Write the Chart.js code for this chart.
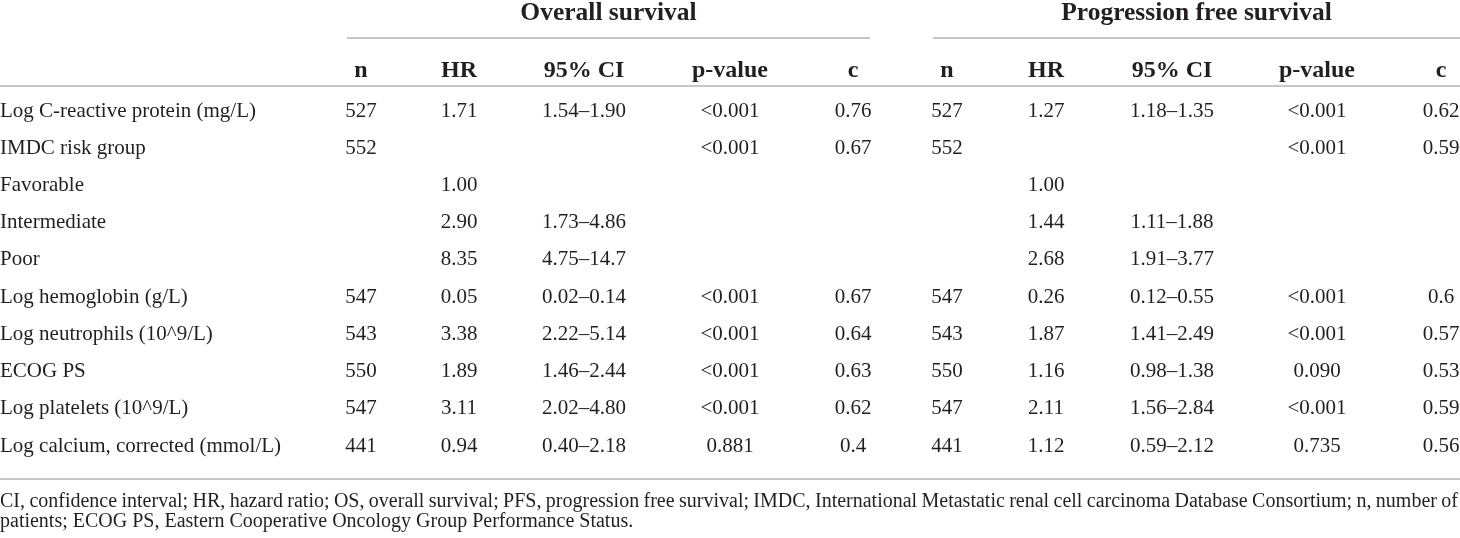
<!DOCTYPE html>
<html>
<head>
<meta charset="utf-8">
<script src="https://cdn.jsdelivr.net/npm/chart.js@4.4.1/dist/chart.umd.min.js"></script>
<style>
  html, body { margin: 0; padding: 0; background: #ffffff; }
  #wrap { width: 1460px; height: 538px; }
</style>
</head>
<body>
<div id="wrap"><canvas id="c" width="1460" height="538"></canvas></div>
<script>
// ---------- data ----------
const rows = ["Log C-reactive protein (mg/L)", "IMDC risk group", "Favorable", "Intermediate", "Poor",
  "Log hemoglobin (g/L)", "Log neutrophils (10^9/L)", "ECOG PS", "Log platelets (10^9/L)", "Log calcium, corrected (mmol/L)"];
const groupTitles = ["Overall survival", "Progression free survival"];
const colHeaders = ["n", "HR", "95% CI", "p-value", "c"];

const osN   = ["527", "552", "", "", "", "547", "543", "550", "547", "441"];
const osHR  = ["1.71", "", "1.00", "2.90", "8.35", "0.05", "3.38", "1.89", "3.11", "0.94"];
const osCI  = ["1.54–1.90", "", "", "1.73–4.86", "4.75–14.7", "0.02–0.14", "2.22–5.14", "1.46–2.44", "2.02–4.80", "0.40–2.18"];
const osP   = ["<0.001", "<0.001", "", "", "", "<0.001", "<0.001", "<0.001", "<0.001", "0.881"];
const osC   = ["0.76", "0.67", "", "", "", "0.67", "0.64", "0.63", "0.62", "0.4"];

const pfsN  = ["527", "552", "", "", "", "547", "543", "550", "547", "441"];
const pfsHR = ["1.27", "", "1.00", "1.44", "2.68", "0.26", "1.87", "1.16", "2.11", "1.12"];
const pfsCI = ["1.18–1.35", "", "", "1.11–1.88", "1.91–3.77", "0.12–0.55", "1.41–2.49", "0.98–1.38", "1.56–2.84", "0.59–2.12"];
const pfsP  = ["<0.001", "<0.001", "", "", "", "<0.001", "<0.001", "0.090", "<0.001", "0.735"];
const pfsC  = ["0.62", "0.59", "", "", "", "0.6", "0.57", "0.53", "0.59", "0.56"];

const footnote1 = "CI, confidence interval; HR, hazard ratio; OS, overall survival; PFS, progression free survival; IMDC, International Metastatic renal cell carcinoma Database Consortium; n, number of";
const footnote2 = "patients; ECOG PS, Eastern Cooperative Oncology Group Performance Status.";

// ---------- layout (positions in x-scale units) ----------
const columnsOS  = [osN, osHR, osCI, osP, osC];
const columnsPFS = [pfsN, pfsHR, pfsCI, pfsP, pfsC];
const colXOS  = [361, 459, 584, 730, 853];
const colXPFS = [947, 1046, 1172, 1317, 1441];
const groupSpans = [[347, 870], [933, 1460]];

const TEXT = "#231f20";
const RULE = "#b4b4b4";
const FAMILY = "'Liberation Serif', 'Times New Roman', serif";

const datasets = [];
[[columnsOS, colXOS], [columnsPFS, colXPFS]].forEach(([cols, xs]) => {
  cols.forEach((vals, k) => {
    datasets.push({
      label: colHeaders[k],
      data: rows.map((r, i) => ({ x: xs[k], y: r, t: vals[i] })).filter(p => p.t !== ""),
      pointRadius: 0,
      showLine: false
    });
  });
});

const tablePlugin = {
  id: 'tablePlugin',
  afterDatasetsDraw(chart) {
    const ctx = chart.ctx;
    const xs = chart.scales.x;
    ctx.save();
    ctx.fillStyle = TEXT;
    ctx.textBaseline = 'middle';
    ctx.textAlign = 'center';
    // cell values
    ctx.font = "21px " + FAMILY;
    chart.data.datasets.forEach((ds, di) => {
      const meta = chart.getDatasetMeta(di);
      meta.data.forEach((el, j) => {
        ctx.fillText(ds.data[j].t, el.x, el.y);
      });
    });
    // column headers
    ctx.font = "bold 24px " + FAMILY;
    [colXOS, colXPFS].forEach(xsArr => {
      xsArr.forEach((v, k) => ctx.fillText(colHeaders[k], xs.getPixelForValue(v), 71));
    });
    // group titles + rules
    ctx.font = "bold 25.5px " + FAMILY;
    groupSpans.forEach((sp, g) => {
      const a = xs.getPixelForValue(sp[0]), b = xs.getPixelForValue(sp[1]);
      ctx.fillText(groupTitles[g], (a + b) / 2, 13);
      ctx.strokeStyle = RULE; ctx.lineWidth = 1.5;
      ctx.beginPath(); ctx.moveTo(a, 38); ctx.lineTo(b, 38); ctx.stroke();
    });
    // full-width rules
    ctx.strokeStyle = RULE; ctx.lineWidth = 1.5;
    ctx.beginPath(); ctx.moveTo(0, 86); ctx.lineTo(1460, 86); ctx.stroke();
    ctx.beginPath(); ctx.moveTo(0, 479); ctx.lineTo(1460, 479); ctx.stroke();
    // footnote (line 1 justified)
    ctx.font = "20px " + FAMILY;
    ctx.textAlign = 'left';
    const words = footnote1.split(' ');
    const wsum = words.reduce((s, w) => s + ctx.measureText(w).width, 0);
    const gap = (1458 - wsum) / (words.length - 1);
    let x = 0;
    words.forEach(w => { ctx.fillText(w, x, 502); x += ctx.measureText(w).width + gap; });
    ctx.fillText(footnote2, 0, 522);
    ctx.restore();
  }
};

new Chart(document.getElementById('c'), {
  type: 'scatter',
  data: { datasets },
  options: {
    responsive: false,
    animation: false,
    devicePixelRatio: 1,
    layout: { padding: { top: 92.4, bottom: 73.4, left: 0, right: 0 } },
    plugins: { legend: { display: false }, tooltip: { enabled: false }, title: { display: false } },
    scales: {
      x: { type: 'linear', min: 330, max: 1460, display: false },
      y: {
        type: 'category',
        labels: rows,
        offset: true,
        grid: { display: false },
        border: { display: false },
        afterFit: (s) => { s.width = 330; },
        ticks: {
          autoSkip: false,
          crossAlign: 'far',
          padding: 0,
          color: TEXT,
          font: { family: FAMILY, size: 21 }
        }
      }
    }
  },
  plugins: [tablePlugin]
});
</script>
</body>
</html>
